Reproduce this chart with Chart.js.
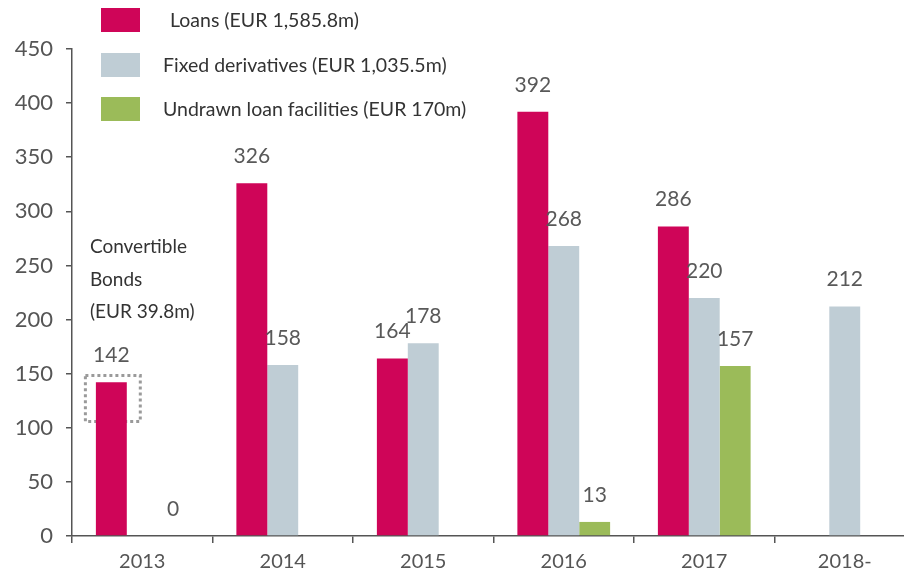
<!DOCTYPE html>
<html>
<head>
<meta charset="utf-8">
<script src="https://cdn.jsdelivr.net/npm/chart.js@4/dist/chart.umd.min.js"></script>
<style>
  html, body { margin: 0; padding: 0; background: #fff; overflow: hidden; }
  #wrap { width: 904px; height: 579px; overflow: hidden; position: relative; }
  #box { width: 925px; height: 579px; position: absolute; left: 0; top: 0; }
</style>
</head>
<body>
<div id="wrap"><div id="box"><canvas id="c"></canvas></div></div>
<script>
const categories = ['2013', '2014', '2015', '2016', '2017', '2018-'];
const loans = [142, 326, 164, 392, 286, null];
const fixedDerivatives = [null, 158, 178, 268, 220, 212];
const undrawnFacilities = [0, null, null, 13, 157, null];
const seriesLabels = [' Loans (EUR 1,585.8m)', 'Fixed derivatives (EUR 1,035.5m)', 'Undrawn loan facilities (EUR 170m)'];
const yTicks = [0, 50, 100, 150, 200, 250, 300, 350, 400, 450];
const noteLines = ['Convertible', 'Bonds', '(EUR 39.8m)'];
const noteValues = [267, 237, 207];
const boxRange = [105.8, 148.3];

const FONT = 'Lato, "Open Sans", sans-serif';
const colors = ['#CF0558', '#BFCDD5', '#9BBB59'];

const valueLabels = {
  id: 'valueLabels',
  afterDatasetsDraw(chart) {
    const ctx = chart.ctx;
    ctx.save();
    ctx.font = '21px ' + FONT;
    ctx.fillStyle = '#595959';
    ctx.textAlign = 'center';
    ctx.textBaseline = 'middle';
    chart.data.datasets.forEach((ds, i) => {
      const meta = chart.getDatasetMeta(i);
      meta.data.forEach((el, j) => {
        const v = ds.data[j];
        if (v === null || v === undefined) return;
        ctx.fillText(String(v), el.x, el.y - 27);
      });
    });
    ctx.restore();
  }
};

const annotations = {
  id: 'annotations',
  beforeDatasetsDraw(chart) {
    const ctx = chart.ctx;
    const y = chart.scales.y;
    const el = chart.getDatasetMeta(0).data[0];
    const left = el.x - el.width / 2 - 10.5;
    const right = el.x + el.width / 2 + 13.5;
    const top = y.getPixelForValue(boxRange[1]);
    const bottom = y.getPixelForValue(boxRange[0]);
    ctx.save();
    ctx.strokeStyle = '#9a9a9a';
    ctx.lineWidth = 3;
    ctx.setLineDash([3, 3]);
    ctx.strokeRect(left, top, right - left, bottom - top);
    ctx.restore();
  },
  afterDatasetsDraw(chart) {
    const ctx = chart.ctx;
    const y = chart.scales.y;
    const el = chart.getDatasetMeta(0).data[0];
    const x0 = el.x - el.width / 2 - 6;
    ctx.save();
    ctx.font = '19px ' + FONT;
    ctx.fillStyle = '#333';
    ctx.textAlign = 'left';
    ctx.textBaseline = 'middle';
    noteLines.forEach((t, i) => ctx.fillText(t, x0, y.getPixelForValue(noteValues[i])));
    // legend
    const sq = [[101, 8, 170], [101, 53, 163], [101, 97, 163]];
    ctx.font = '19.5px ' + FONT;
    chart.data.datasets.forEach((ds, i) => {
      ctx.fillStyle = ds.backgroundColor;
      ctx.fillRect(sq[i][0], sq[i][1], 39, 24);
      ctx.fillStyle = '#333';
      ctx.fillText(ds.label.trim(), sq[i][2], sq[i][1] + 13);
    });
    ctx.restore();
  }
};

new Chart(document.getElementById('c'), {
  type: 'bar',
  data: {
    labels: categories,
    datasets: [
      { label: seriesLabels[0], data: loans, backgroundColor: colors[0] },
      { label: seriesLabels[1], data: fixedDerivatives, backgroundColor: colors[1] },
      { label: seriesLabels[2], data: undrawnFacilities, backgroundColor: colors[2] }
    ]
  },
  options: {
    responsive: true,
    maintainAspectRatio: false,
    animation: false,
    datasets: { bar: { categoryPercentage: 0.66, barPercentage: 1.0 } },
    layout: { padding: { top: 49, right: 10, left: 0, bottom: 0 } },
    plugins: { legend: { display: false }, tooltip: { enabled: false } },
    scales: {
      x: {
        grid: { display: true, drawOnChartArea: false, drawTicks: true, tickLength: 7, color: '#555', lineWidth: 1.5 },
        border: { display: true, color: '#555', width: 1.5 },
        ticks: { color: '#555', font: { family: FONT, size: 20 }, padding: 7, maxRotation: 0 },
        afterFit(scale) { scale.height = 43; }
      },
      y: {
        min: 0, max: 450,
        afterBuildTicks(scale) { scale.ticks = yTicks.map(v => ({ value: v })); },
        grid: { display: true, drawOnChartArea: false, drawTicks: true, tickLength: 6, color: '#555', lineWidth: 1.5 },
        border: { display: true, color: '#555', width: 1.5 },
        ticks: { color: '#555', font: { family: FONT, size: 22 }, padding: 13 },
        afterFit(scale) { scale.width = 72; }
      }
    }
  },
  plugins: [valueLabels, annotations]
});
</script>
</body>
</html>
